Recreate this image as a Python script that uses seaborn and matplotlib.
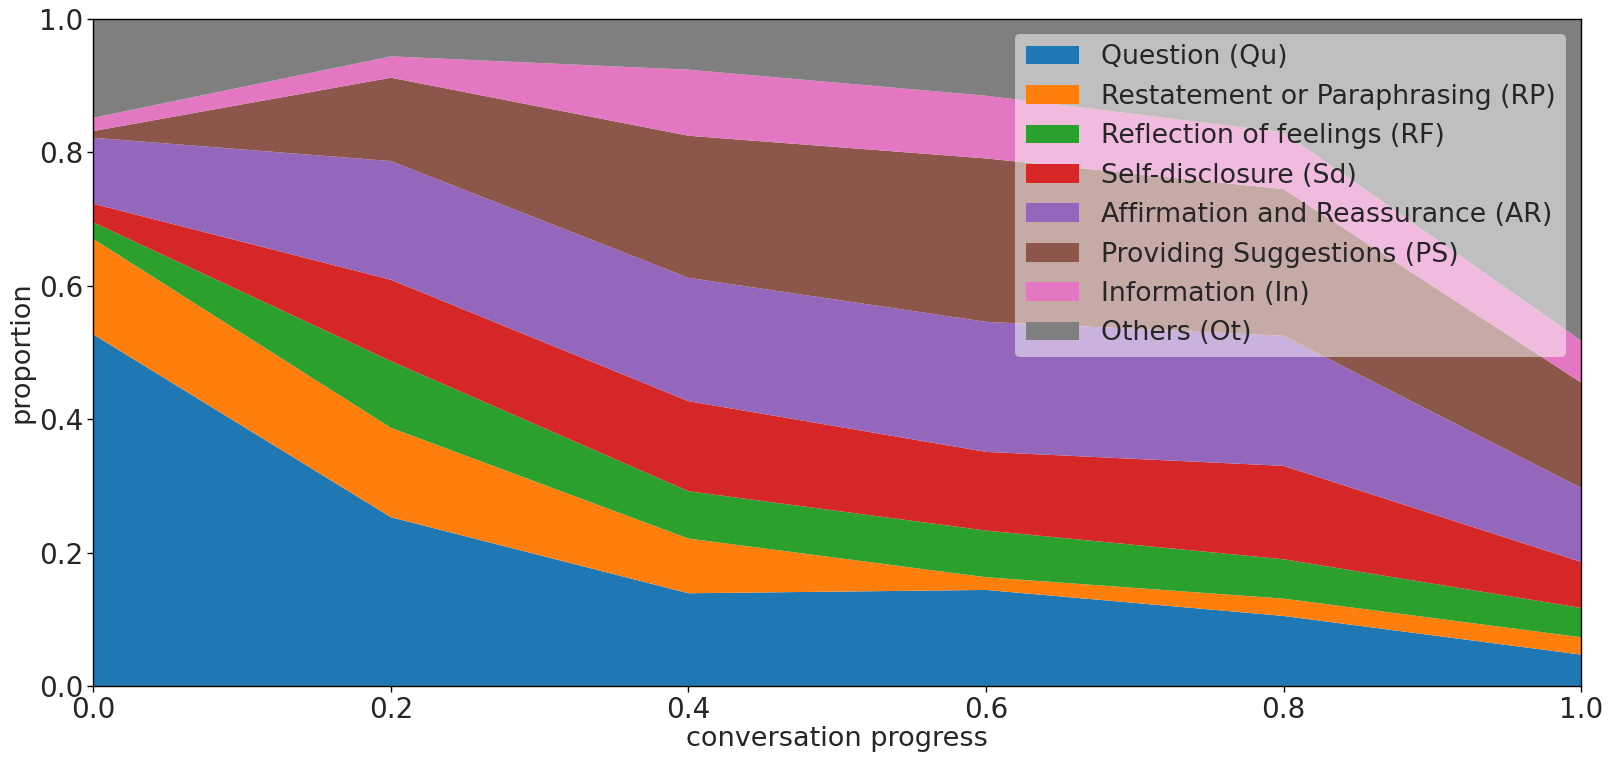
import numpy as np
import pandas as pd
import seaborn as sns
import matplotlib
matplotlib.use("Agg")
import matplotlib.pyplot as plt

# conversation progress positions
progress = [0.0, 0.2, 0.4, 0.6, 0.8, 1.0]

labels = ["Question (Qu)", "Restatement or Paraphrasing (RP)",
          "Reflection of feelings (RF)", "Self-disclosure (Sd)",
          "Affirmation and Reassurance (AR)", "Providing Suggestions (PS)",
          "Information (In)", "Others (Ot)"]

# proportion of each strategy at each progress step
qu = [0.527, 0.253, 0.139, 0.144, 0.105, 0.047]
rp = [0.143, 0.134, 0.082, 0.019, 0.026, 0.026]
rf = [0.025, 0.100, 0.071, 0.070, 0.059, 0.044]
sd = [0.028, 0.122, 0.135, 0.118, 0.140, 0.069]
ar = [0.099, 0.178, 0.185, 0.195, 0.195, 0.111]
ps = [0.010, 0.125, 0.213, 0.245, 0.220, 0.158]
inf = [0.020, 0.032, 0.099, 0.094, 0.085, 0.063]
ot = [0.148, 0.056, 0.076, 0.115, 0.170, 0.483]

df = pd.DataFrame({"progress": progress, labels[0]: qu, labels[1]: rp,
                   labels[2]: rf, labels[3]: sd, labels[4]: ar,
                   labels[5]: ps, labels[6]: inf, labels[7]: ot})

sns.set_style("ticks")
plt.rcParams['font.family'] = ['DejaVu Sans']
plt.rcParams['patch.force_edgecolor'] = False
plt.rcParams['patch.edgecolor'] = 'none'
colours = sns.color_palette("tab10", 8)

fig = plt.figure(figsize=(16.11, 7.61), dpi=100)
ax = fig.add_axes([0.058, 0.0986, 0.9234, 0.8764])

ax.stackplot(df["progress"], *[df[l] for l in labels], labels=labels,
             colors=colours, linewidth=0, edgecolor='none')

ax.set_xlim(0, 1)
ax.set_ylim(0, 1)
ax.set_xticks(progress)
ax.set_yticks([0.0, 0.2, 0.4, 0.6, 0.8, 1.0])
ax.tick_params(labelsize=20, length=4, width=1, color='black')
for s in ax.spines.values():
    s.set_color('black')
    s.set_linewidth(1)
ax.set_xlabel("conversation progress", fontsize=19.5, labelpad=1)
ax.set_ylabel("proportion", fontsize=19.5, labelpad=3)

leg = ax.legend(loc="upper right", fontsize=19.3, framealpha=0.5, facecolor='white',
                edgecolor='none', borderaxespad=0.55, labelspacing=0.5)
for h in leg.legend_handles:
    h.set_edgecolor('none')

fig.savefig("out.png", dpi=100)
